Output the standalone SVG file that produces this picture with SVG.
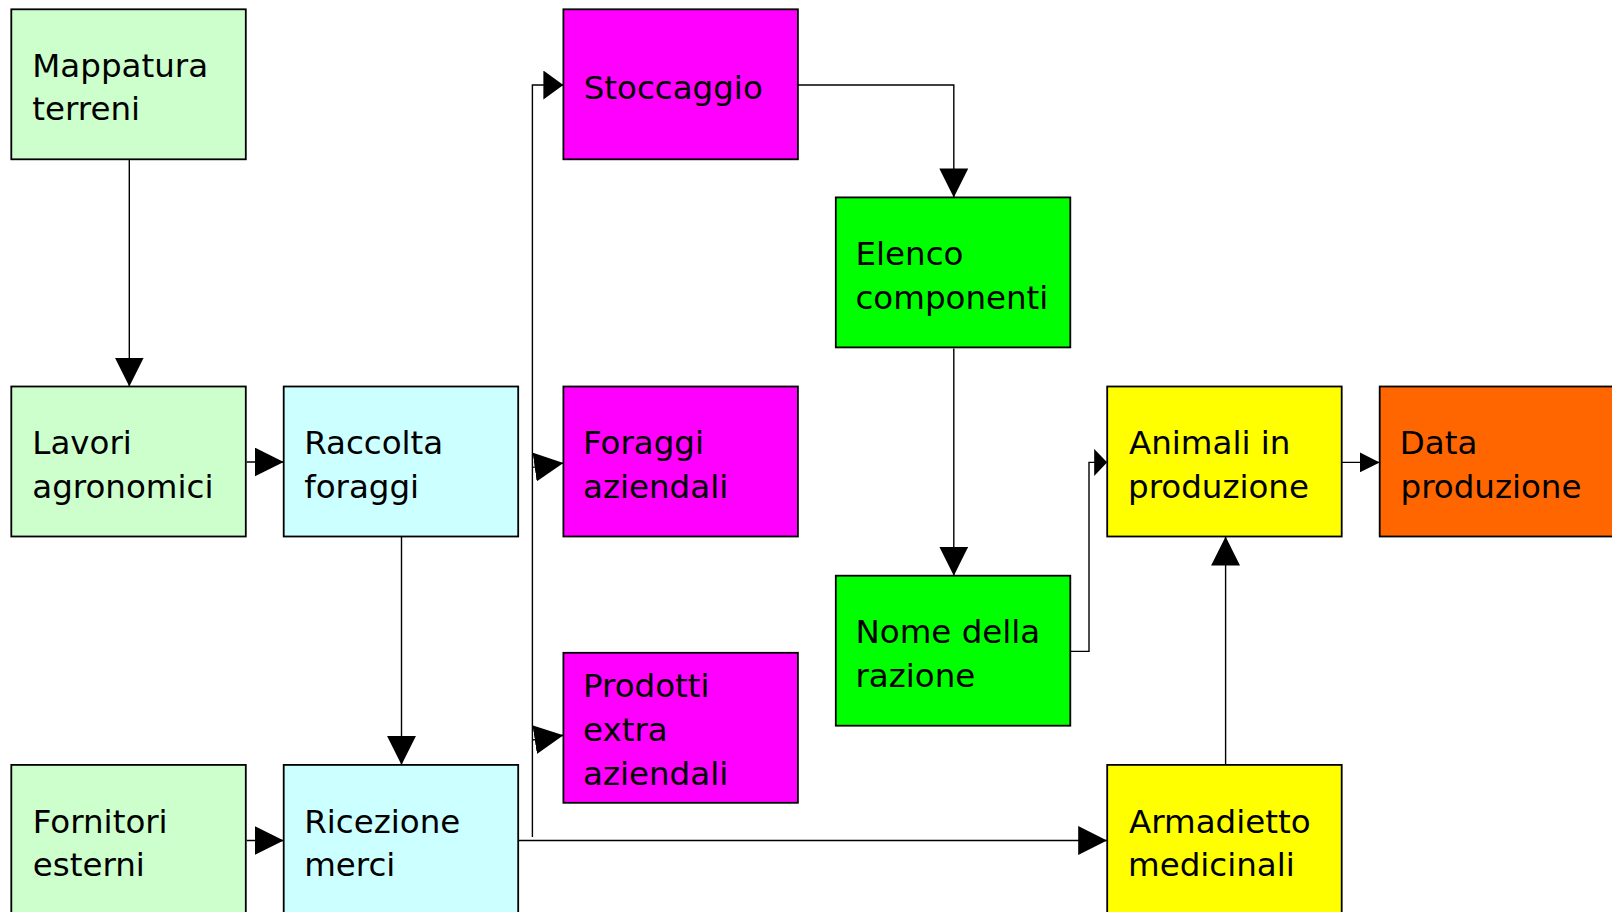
<svg xmlns="http://www.w3.org/2000/svg" width="1612" height="912" viewBox="0 0 1612 912">
<style>
.box{stroke:#000;stroke-width:1.8}
.lg{fill:#CCFFCC}.lc{fill:#CCFFFF}.mg{fill:#FF00FF}.gr{fill:#00FF00}.ye{fill:#FFFF00}.or{fill:#FF6600}
text{font-family:"DejaVu Sans",Verdana,sans-serif;font-size:32.5px;fill:#000}
.cn{fill:none;stroke:#000;stroke-width:1.4}
</style>
<defs>
<marker id="aL" viewBox="0 0 29 29" markerWidth="29" markerHeight="29" refX="29" refY="14.5" orient="auto" markerUnits="userSpaceOnUse"><path d="M0,0 L29,14.5 L0,29 z" fill="#000"/></marker>
<marker id="aS" viewBox="0 0 20 29" markerWidth="20" markerHeight="29" refX="20" refY="14.5" orient="auto" markerUnits="userSpaceOnUse"><path d="M0,0 L20,14.5 L0,29 z" fill="#000"/></marker>
<marker id="aN" viewBox="0 0 13 27" markerWidth="13" markerHeight="27" refX="13" refY="13.5" orient="auto" markerUnits="userSpaceOnUse"><path d="M0,0 L13,13.5 L0,27 z" fill="#000"/></marker>
<marker id="aD" viewBox="0 0 20 20" markerWidth="20" markerHeight="20" refX="20" refY="10" orient="auto" markerUnits="userSpaceOnUse"><path d="M0,0 L20,10 L0,20 z" fill="#000"/></marker>
</defs>
<rect width="1612" height="912" fill="#fff"/>
<g id="connectors">
<path class="cn" d="M129.3,159.4 V386.5" marker-end="url(#aL)"/>
<path class="cn" d="M246.7,462 H283.7" marker-end="url(#aL)"/>
<path class="cn" d="M401.5,536.6 V764.9" marker-end="url(#aL)"/>
<path class="cn" d="M246.7,840.5 H283.7" marker-end="url(#aL)"/>
<path class="cn" d="M518.2,840.5 H1107.2" marker-end="url(#aL)"/>
<path class="cn" d="M532.4,837 V85 H563.4" marker-end="url(#aS)"/>
<path class="cn" d="M532.4,467.4 L563.4,463.1" marker-end="url(#aL)"/>
<path class="cn" d="M532.4,740 L563.4,735.3" marker-end="url(#aL)"/>
<path class="cn" d="M797.8,85 H953.8 V197.4" marker-end="url(#aL)"/>
<path class="cn" d="M953.8,348.5 V575.7" marker-end="url(#aL)"/>
<path class="cn" d="M1070.2,651.4 H1089 V462.4 H1107.2" marker-end="url(#aN)"/>
<path class="cn" d="M1225.6,764.9 V536.6" marker-end="url(#aL)"/>
<path class="cn" d="M1341.6,462.4 H1379.7" marker-end="url(#aD)"/>
</g>
<g id="mappatura"><rect class="box lg" x="11.3" y="9.3" width="234.5" height="150"/><text x="32.3" y="76.5"><tspan>Mappatura</tspan><tspan x="32.3" y="120">terreni</tspan></text></g>
<g id="lavori"><rect class="box lg" x="11.3" y="386.5" width="234.5" height="150"/><text x="32.3" y="454">Lavori<tspan x="32.3" y="497.5">agronomici</tspan></text></g>
<g id="fornitori"><rect class="box lg" x="11.3" y="764.9" width="234.5" height="150"/><text x="32.8" y="832.5">Fornitori<tspan x="32.8" y="876">esterni</tspan></text></g>
<g id="raccolta"><rect class="box lc" x="283.7" y="386.5" width="234.5" height="150"/><text x="304.2" y="454">Raccolta<tspan x="304.2" y="497.5">foraggi</tspan></text></g>
<g id="ricezione"><rect class="box lc" x="283.7" y="764.9" width="234.5" height="150"/><text x="304.2" y="832.5">Ricezione<tspan x="304.2" y="876">merci</tspan></text></g>
<g id="stoccaggio"><rect class="box mg" x="563.4" y="9.3" width="234.5" height="150"/><text x="583.7" y="98.5">Stoccaggio</text></g>
<g id="foraggi"><rect class="box mg" x="563.4" y="386.5" width="234.5" height="150"/><text x="583" y="454">Foraggi<tspan x="583" y="497.5">aziendali</tspan></text></g>
<g id="prodotti"><rect class="box mg" x="563.4" y="652.8" width="234.5" height="150"/><text x="583" y="697">Prodotti<tspan x="583" y="741">extra</tspan><tspan x="583" y="785">aziendali</tspan></text></g>
<g id="elenco"><rect class="box gr" x="835.8" y="197.4" width="234.5" height="150"/><text x="855.5" y="265.3">Elenco<tspan x="855.5" y="308.8">componenti</tspan></text></g>
<g id="nome"><rect class="box gr" x="835.8" y="575.7" width="234.5" height="150"/><text x="855.5" y="643.3">Nome della<tspan x="855.5" y="686.8">razione</tspan></text></g>
<g id="animali"><rect class="box ye" x="1107.2" y="386.5" width="234.5" height="150"/><text x="1129" y="454">Animali in<tspan x="1128" y="497.5">produzione</tspan></text></g>
<g id="armadietto"><rect class="box ye" x="1107.2" y="764.9" width="234.5" height="150"/><text x="1129" y="832.5">Armadietto<tspan x="1128" y="876">medicinali</tspan></text></g>
<g id="data"><rect class="box or" x="1379.7" y="386.5" width="234.5" height="150"/><text x="1399.8" y="454">Data<tspan x="1400.5" y="497.5">produzione</tspan></text></g>
</svg>
